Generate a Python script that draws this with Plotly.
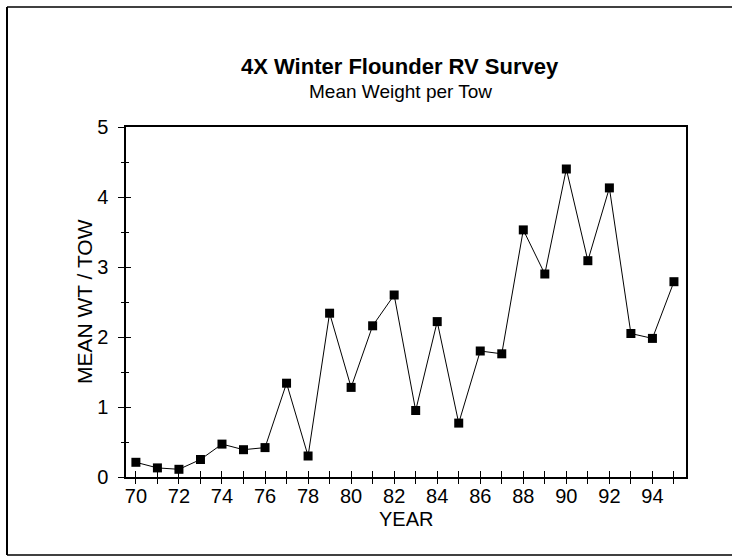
import plotly.graph_objects as go

years = list(range(70, 96))
mean_wt = [0.21, 0.13, 0.11, 0.25, 0.47, 0.39, 0.42, 1.34, 0.30, 2.34,
           1.28, 2.16, 2.60, 0.95, 2.22, 0.77, 1.80, 1.76, 3.53, 2.90,
           4.40, 3.09, 4.13, 2.05, 1.98, 2.79]
x_tick_vals = list(range(70, 96))
x_tick_text = [str(v) if v % 2 == 0 and v <= 94 else "" for v in x_tick_vals]
y_tick_vals = [0, 1, 2, 3, 4, 5]
y_tick_text = ["0", "1", "2", "3", "4", "5"]

title_text = "<b>4X Winter Flounder RV Survey</b>"
subtitle_text = "Mean Weight per Tow"
x_title = "YEAR"
y_title = "MEAN WT / TOW"

FONT = "Liberation Sans, Arial, Helvetica, sans-serif"
XR = [69.54, 95.56]
YR = [0, 5]

fig = go.Figure()
fig.add_trace(go.Scatter(
    x=years, y=mean_wt, mode="lines+markers",
    line=dict(color="black", width=1),
    marker=dict(symbol="square", size=9, color="black"),
    showlegend=False, hoverinfo="skip"))
# invisible trace to hold the overlay axes (inner halves of crossing ticks)
fig.add_trace(go.Scatter(x=[years[0]], y=[mean_wt[0]], xaxis="x2", yaxis="y2",
                         mode="markers", marker=dict(opacity=0), showlegend=False,
                         hoverinfo="skip"))

common = dict(showgrid=False, zeroline=False, linecolor="black", tickcolor="black",
              tickwidth=1)
fig.update_layout(
    width=732, height=556,
    margin=dict(l=126, r=46, t=127, b=79),
    paper_bgcolor="white", plot_bgcolor="white",
    font=dict(family=FONT, color="black", size=20),
    xaxis=dict(range=XR, tickmode="array", tickvals=x_tick_vals, ticktext=x_tick_text,
               ticks="outside", ticklen=5, showline=True, linewidth=1.5, mirror=True,
               ticklabelstandoff=-5, tickfont=dict(size=20), **common),
    yaxis=dict(range=YR, tickmode="array", tickvals=y_tick_vals, ticktext=y_tick_text,
               ticks="outside", ticklen=6, showline=True, linewidth=1.5, mirror=True,
               ticklabelstandoff=6, tickfont=dict(size=20),
               minor=dict(tickvals=[0.5, 1.5, 2.5, 3.5, 4.5], ticks="outside",
                          ticklen=3, tickcolor="black"),
               **common),
    xaxis2=dict(range=XR, overlaying="x", anchor="y", tickmode="array",
                tickvals=x_tick_vals, ticks="inside", ticklen=6, showticklabels=False,
                showline=False, **common),
    yaxis2=dict(range=YR, overlaying="y", anchor="x", tickmode="array",
                tickvals=y_tick_vals, ticks="inside", ticklen=5, showticklabels=False,
                showline=False,
                minor=dict(tickvals=[0.5, 1.5, 2.5, 3.5, 4.5], ticks="inside",
                           ticklen=3, tickcolor="black"),
                **common),
    annotations=[
        dict(text=title_text, xref="paper", yref="paper", x=0.49, y=1.174,
             showarrow=False, font=dict(size=22), xanchor="center", yanchor="middle"),
        dict(text=subtitle_text, xref="paper", yref="paper", x=0.49, y=1.10,
             showarrow=False, font=dict(size=19), xanchor="center", yanchor="middle"),
        dict(text=x_title, xref="paper", yref="paper", x=0.5, y=-0.12,
             showarrow=False, font=dict(size=20), xanchor="center", yanchor="middle"),
        dict(text=y_title, xref="paper", yref="paper", x=-0.075, y=0.5, textangle=-90,
             showarrow=False, font=dict(size=21), xanchor="center", yanchor="middle"),
    ],
    shapes=[
        dict(type="line", xref="paper", yref="paper", x0=-0.2125, x1=1.2, y0=1.343, y1=1.343,
             line=dict(color="black", width=1.5)),
        dict(type="line", xref="paper", yref="paper", x0=-0.2125, x1=-0.2125, y0=1.343, y1=-0.223,
             line=dict(color="black", width=2)),
        dict(type="line", xref="paper", yref="paper", x0=-0.2125, x1=1.2, y0=-0.223, y1=-0.223,
             line=dict(color="black", width=1.5)),
    ],
)
fig.write_html("out.html")
